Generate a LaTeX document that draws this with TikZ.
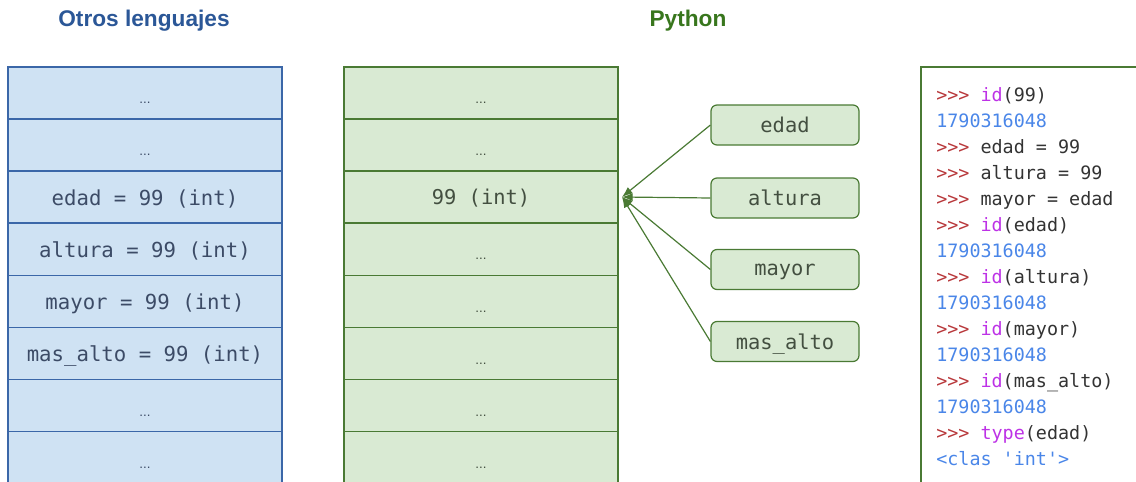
\documentclass[tikz,border=0pt]{standalone}
\usepackage{fontspec}
\setmainfont{Liberation Sans}
\newfontfamily\codefont{DejaVu Sans Mono}
\usetikzlibrary{arrows.meta}

\definecolor{otrosfill}{HTML}{CFE2F3}
\definecolor{otrosline}{HTML}{3B67A8}
\definecolor{otrostext}{HTML}{3C4B66}
\definecolor{otrostitle}{HTML}{2B5797}
\definecolor{pyfill}{HTML}{D9EAD3}
\definecolor{pyline}{HTML}{4A7A34}
\definecolor{pytext}{HTML}{434F40}
\definecolor{pytitle}{HTML}{38761D}
\definecolor{promptred}{HTML}{B8383B}
\definecolor{callpurple}{HTML}{BD32E6}
\definecolor{outblue}{HTML}{4A86E8}
\definecolor{plaincode}{HTML}{333333}

\newcommand{\celldots}{\raisebox{-8pt}[0pt][0pt]{\rmfamily\fontsize{10}{12}\selectfont...}}
\newcommand{\pr}{\textcolor{promptred}{>>>}}
\newcommand{\fn}[1]{\textcolor{callpurple}{#1}}
\newcommand{\out}[1]{\textcolor{outblue}{#1}}

\tikzset{
  title/.style={font=\bfseries\fontsize{17}{20}\selectfont},
  otroscell/.style={draw=otrosline, fill=otrosfill, line width=1.1pt,
    minimum width=205.5pt, minimum height=39pt, inner sep=0pt, text depth=0pt,
    text=otrostext, font=\codefont\fontsize{15.5}{18}\selectfont},
  pycell/.style={draw=pyline, fill=pyfill, line width=1.1pt,
    minimum width=205.5pt, minimum height=39pt, inner sep=0pt, text depth=0pt,
    text=pytext, font=\codefont\fontsize{15.3}{18}\selectfont},
  namebox/.style={draw=pyline, fill=pyfill, line width=0.9pt, rounded corners=4.5pt,
    minimum width=111pt, minimum height=30pt, inner sep=0pt, text depth=0pt,
    text=pytext, font=\codefont\fontsize{15.3}{18}\selectfont},
  ref/.style={draw=pyline, line width=0.9pt, -{Latex[length=8pt,width=6pt]}},
  codeline/.style={anchor=base west, inner sep=0pt, text=plaincode,
    font=\codefont\fontsize{13.8}{18}\selectfont}
}

\begin{document}
\begin{tikzpicture}[x=0.75pt,y=-0.75pt]
  \useasboundingbox (0,0) rectangle (1136,482);

  % titles
  \node[title, text=otrostitle] (otros) at (144,21) {Otros lenguajes};
  \node[title, text=pytitle] (python) at (688,21) {Python};

  % memoria en otros lenguajes
  \foreach \i/\txt in {1/\celldots, 2/\celldots, 3/{edad = 99 (int)}, 4/{altura = 99 (int)},
      5/{mayor = 99 (int)}, 6/{mas\_alto = 99 (int)}, 7/\celldots, 8/\celldots}
    \node[otroscell] (o\i) at (145,{93+52.1*(\i-1)}) {\txt};

  % memoria en python
  \foreach \i/\txt in {1/\celldots, 2/\celldots, 3/{99 (int)}, 4/\celldots,
      5/\celldots, 6/\celldots, 7/\celldots, 8/\celldots}
    \node[pycell] (p\i) at (481,{93+52.1*(\i-1)}) {\txt};

  % nombres
  \coordinate (hub) at (622,197);
  \node[namebox] (edad) at (785,125) {edad};
  \node[namebox] (altura) at (785,198) {altura};
  \node[namebox] (mayor) at (785,269.5) {mayor};
  \node[namebox] (masalto) at (785,341.5) {mas\_alto};
  \foreach \n in {edad, altura, mayor, masalto}
    \draw[ref] (\n.west) -- (hub);

  % sesion interactiva
  \draw[draw=pyline, line width=1.1pt] (921,67) rectangle (1145,495);
  \foreach \i/\txt in {1/{\pr\ \fn{id}(99)}, 2/{\out{1790316048}}, 3/{\pr\ edad = 99},
      4/{\pr\ altura = 99}, 5/{\pr\ mayor = edad}, 6/{\pr\ \fn{id}(edad)},
      7/{\out{1790316048}}, 8/{\pr\ \fn{id}(altura)}, 9/{\out{1790316048}},
      10/{\pr\ \fn{id}(mayor)}, 11/{\out{1790316048}}, 12/{\pr\ \fn{id}(mas\_alto)},
      13/{\out{1790316048}}, 14/{\pr\ \fn{type}(edad)},
      15/{\out{<clas \textquotesingle int\textquotesingle>}}}
    \node[codeline] (s\i) at (936,{101.5+26*(\i-1)}) {\txt};
\end{tikzpicture}
\end{document}
